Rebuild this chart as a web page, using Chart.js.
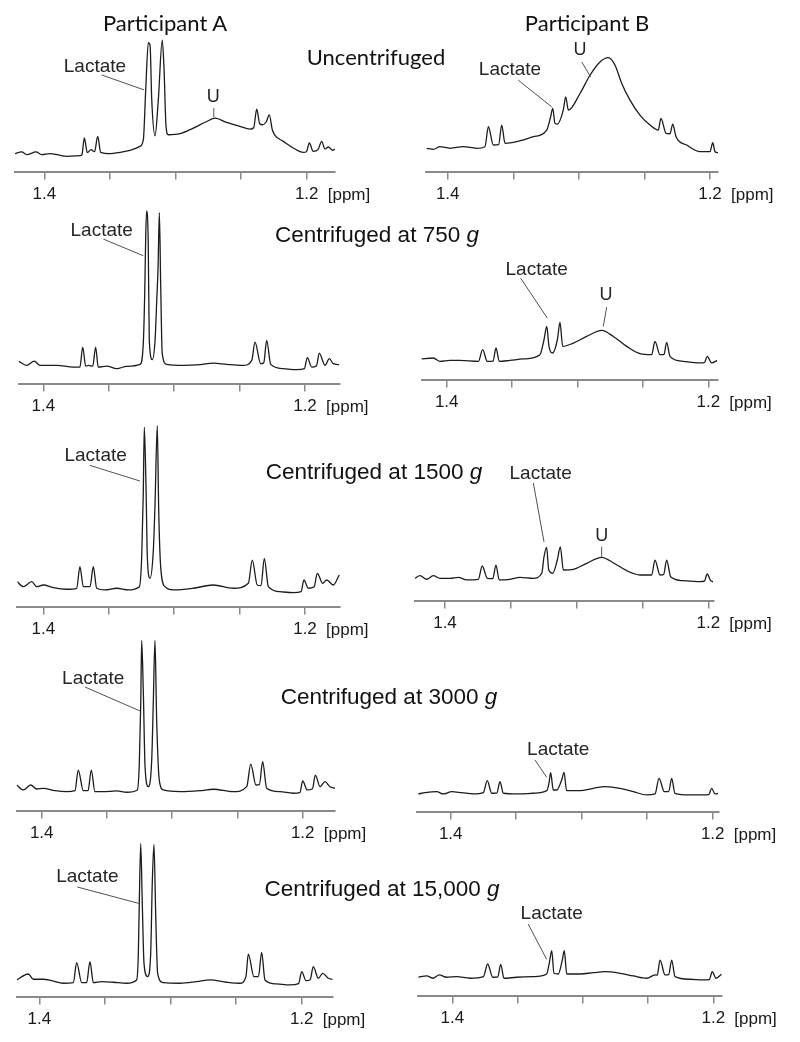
<!DOCTYPE html>
<html>
<head>
<meta charset="utf-8">
<script src="https://cdn.jsdelivr.net/npm/chart.js@4.4.0/dist/chart.umd.min.js"></script>
<style>
  body { margin: 0; background: #fff; }
  #fig { position: relative; width: 800px; height: 1042px; overflow: hidden; }
  #fig canvas { position: absolute; }
  .title { position: absolute; transform: translate(-50%, -50%); white-space: nowrap; color: #111; line-height: 1; z-index: 2; }
  .head { font-family: Lato, "Open Sans", sans-serif; font-size: 22px; }
  .cond { font-family: "Liberation Sans", Arial, sans-serif; font-size: 22.5px; }
</style>
</head>
<body>
<div id="fig">
  <div class="title head" style="left:165px; top:23px">Participant A</div>
  <div class="title head" style="left:587px; top:23px">Participant B</div>
  <div class="title head" style="left:376px; top:57px">Uncentrifuged</div>
  <div class="title cond" style="left:377px; top:235px">Centrifuged at 750 <i>g</i></div>
  <div class="title cond" style="left:374px; top:472px">Centrifuged at 1500 <i>g</i></div>
  <div class="title cond" style="left:389px; top:697px">Centrifuged at 3000 <i>g</i></div>
  <div class="title cond" style="left:382px; top:889px">Centrifuged at 15,000 <i>g</i></div>
</div>
<script>
// x axis ticks (ppm)
const tickValues = [1.4, 1.35, 1.3, 1.25, 1.2];
const tickLabels = ['1.4', '', '', '', '1.2'];

// Participant A, uncentrifuged
const aUncentPpm = [1.4223, 1.4172, 1.4134, 1.4063, 1.4020, 1.3957, 1.3893, 1.3829, 1.3728, 1.3713, 1.3695, 1.3672, 1.3644, 1.3617, 1.3593, 1.3570, 1.3499, 1.3423, 1.3347, 1.3271, 1.3245, 1.3227, 1.3207, 1.3194, 1.3181, 1.3156, 1.3131, 1.3101, 1.3088, 1.3072, 1.3055, 1.2966, 1.2864, 1.2762, 1.2699, 1.2610, 1.2508, 1.2432, 1.2404, 1.2381, 1.2358, 1.2335, 1.2308, 1.2285, 1.2262, 1.2240, 1.2178, 1.2102, 1.2026, 1.2002, 1.1980, 1.1950, 1.1914, 1.1886, 1.1861, 1.1835, 1.1802, 1.1784];
const aUncentInt = [18, 19.7, 17, 19.7, 17, 18, 16.7, 15.3, 16, 17, 33.7, 19, 22, 20, 35.3, 19.3, 18, 19.3, 21.3, 25.3, 32, 82, 129.3, 127, 72, 36, 72, 132, 105, 45.3, 37, 38, 43.7, 50.3, 53.7, 49.3, 45.3, 42.7, 44, 62.7, 48, 47, 50, 57, 42, 36, 30.3, 23.7, 19.3, 20, 28.7, 20.3, 22, 30.3, 22.7, 24.7, 21.3, 22.7];

// Participant B, uncentrifuged
const bUncentPpm = [1.4160, 1.4110, 1.4059, 1.3982, 1.3881, 1.3779, 1.3716, 1.3690, 1.3652, 1.3612, 1.3588, 1.3563, 1.3474, 1.3347, 1.3245, 1.3215, 1.3199, 1.3182, 1.3164, 1.3119, 1.3100, 1.3080, 1.2991, 1.2915, 1.2839, 1.2775, 1.2724, 1.2673, 1.2610, 1.2534, 1.2457, 1.2394, 1.2374, 1.2335, 1.2305, 1.2284, 1.2259, 1.2178, 1.2076, 1.2000, 1.1979, 1.1962, 1.1937];
const bUncentInt = [23.4, 22.4, 25, 23.4, 25, 23.4, 25, 45, 26.7, 27, 46.7, 28.4, 30, 35, 41.7, 55, 63.4, 48.4, 47.7, 61.7, 75, 61.7, 78.4, 96.7, 110, 114.4, 106.7, 88.4, 71.7, 56.7, 46.7, 41.7, 53.4, 38.4, 38, 47.7, 35, 26.7, 20, 20, 29, 20, 19];

// Participant A, 750 g
const a750Ppm = [1.4186, 1.4127, 1.4069, 1.4025, 1.3898, 1.3771, 1.3720, 1.3699, 1.3676, 1.3653, 1.3622, 1.3600, 1.3580, 1.3515, 1.3439, 1.3363, 1.3261, 1.3236, 1.3225, 1.3217, 1.3210, 1.3198, 1.3190, 1.3167, 1.3146, 1.3133, 1.3123, 1.3113, 1.3103, 1.3091, 1.3057, 1.2930, 1.2802, 1.2701, 1.2598, 1.2472, 1.2407, 1.2382, 1.2339, 1.2315, 1.2293, 1.2262, 1.2166, 1.2063, 1.2005, 1.1982, 1.1949, 1.1912, 1.1891, 1.1847, 1.1814, 1.1784, 1.1738];
const a750Int = [22.3, 18.3, 22.6, 18.3, 18.3, 16.6, 16.6, 36.6, 17.5, 18.3, 17.5, 36.6, 16.6, 17.6, 15, 17.3, 19.3, 40, 90, 150, 173.3, 140, 43.3, 24, 43.3, 83.3, 116.6, 171.6, 100, 30, 19.3, 18.3, 19, 20.6, 19.3, 18.3, 23.3, 41.6, 20, 21, 43.3, 19.3, 15, 14, 15, 26, 16.6, 18, 30.6, 18.3, 25, 20, 19];

// Participant B, 750 g
const b750Ppm = [1.4199, 1.4102, 1.4051, 1.3975, 1.3898, 1.3758, 1.3725, 1.3690, 1.3646, 1.3623, 1.3598, 1.3516, 1.3414, 1.3287, 1.3256, 1.3235, 1.3218, 1.3190, 1.3154, 1.3134, 1.3113, 1.3032, 1.2930, 1.2815, 1.2726, 1.2624, 1.2522, 1.2433, 1.2408, 1.2369, 1.2340, 1.2318, 1.2293, 1.2191, 1.2063, 1.2030, 1.2008, 1.1974, 1.1931];
const b750Int = [20.7, 21.7, 18.3, 19.3, 19.3, 18.3, 30, 18.3, 18.5, 31.7, 18.3, 19.3, 20.7, 25, 40, 53.3, 33.3, 26.7, 40, 57.3, 33.3, 36.7, 43.3, 49.3, 43.3, 33.3, 26, 25, 38.3, 25, 25, 37.3, 23.3, 18.3, 16.7, 17, 23.3, 16.7, 19.3];

// Participant A, 1500 g
const a1500Ppm = [1.4199, 1.4153, 1.4089, 1.4050, 1.4000, 1.3924, 1.3821, 1.3745, 1.3720, 1.3694, 1.3643, 1.3618, 1.3592, 1.3528, 1.3439, 1.3350, 1.3266, 1.3248, 1.3236, 1.3228, 1.3215, 1.3205, 1.3185, 1.3159, 1.3146, 1.3129, 1.3118, 1.3103, 1.3070, 1.3006, 1.2854, 1.2701, 1.2548, 1.2433, 1.2403, 1.2365, 1.2336, 1.2311, 1.2280, 1.2191, 1.2089, 1.2030, 1.2008, 1.1975, 1.1930, 1.1906, 1.1865, 1.1834, 1.1784, 1.1738];
const a1500Int = [25, 20, 25, 20, 21.7, 19, 17.4, 18.4, 40, 20, 20, 40, 18.4, 16.7, 18.4, 16.7, 20, 50, 113.4, 180, 120, 50, 28.4, 56.7, 103.4, 181.7, 96.7, 40, 20, 16.7, 18.4, 21.7, 18.4, 23.4, 46.7, 21.7, 21, 48.4, 20, 15, 14, 15, 26.7, 18.4, 20, 33.4, 23.4, 26.7, 21.7, 31.7];

// Participant B, 1500 g
const b1500Ppm = [1.4228, 1.4190, 1.4139, 1.4089, 1.4038, 1.3962, 1.3899, 1.3835, 1.3747, 1.3717, 1.3679, 1.3637, 1.3613, 1.3588, 1.3506, 1.3430, 1.3329, 1.3265, 1.3248, 1.3228, 1.3212, 1.3182, 1.3147, 1.3124, 1.3101, 1.3025, 1.2924, 1.2810, 1.2722, 1.2620, 1.2519, 1.2430, 1.2405, 1.2367, 1.2340, 1.2316, 1.2286, 1.2190, 1.2063, 1.2030, 1.2008, 1.1982, 1.1962];
const b1500Int = [22.4, 25, 21.4, 25, 22.4, 22.4, 23.4, 20.7, 21.4, 34.7, 22.4, 22, 35.7, 20.7, 21.4, 23.4, 22.4, 27.4, 44, 53.4, 30.7, 27.4, 40.7, 54, 30.7, 31.4, 37.4, 43.4, 38, 30, 25.7, 25.7, 40.7, 25.7, 26, 40.7, 24, 20, 19, 19.5, 26.7, 20, 19];

// Participant A, 3000 g
const a3000Ppm = [1.4192, 1.4141, 1.4084, 1.4038, 1.3988, 1.3898, 1.3808, 1.3745, 1.3720, 1.3681, 1.3645, 1.3620, 1.3592, 1.3528, 1.3425, 1.3349, 1.3267, 1.3252, 1.3241, 1.3234, 1.3221, 1.3208, 1.3183, 1.3157, 1.3145, 1.3132, 1.3119, 1.3099, 1.3068, 1.2940, 1.2787, 1.2685, 1.2532, 1.2429, 1.2398, 1.2358, 1.2332, 1.2307, 1.2276, 1.2174, 1.2072, 1.2022, 1.2000, 1.1965, 1.1925, 1.1903, 1.1867, 1.1829, 1.1791, 1.1752];
const a3000Int = [25.7, 20.7, 25.7, 21.7, 22.4, 20, 19, 20, 40.7, 20, 20, 40.7, 19, 19, 19.7, 18.4, 20.7, 47.4, 107.4, 170.7, 117.4, 44, 24, 50.7, 107.4, 170.7, 90.7, 30.7, 20.7, 19, 20, 21.4, 19, 24, 46.7, 25.7, 26, 49, 22.4, 19, 17.4, 18, 29.7, 20.7, 22, 35.7, 24, 29, 24, 22.4];

// Participant B, 3000 g
const b3000Ppm = [1.4247, 1.4196, 1.4107, 1.4056, 1.3992, 1.3916, 1.3827, 1.3751, 1.3721, 1.3687, 1.3648, 1.3624, 1.3598, 1.3496, 1.3369, 1.3267, 1.3250, 1.3237, 1.3217, 1.3191, 1.3153, 1.3135, 1.3115, 1.3013, 1.2911, 1.2822, 1.2708, 1.2606, 1.2504, 1.2440, 1.2410, 1.2369, 1.2336, 1.2313, 1.2288, 1.2173, 1.2072, 1.2030, 1.2008, 1.1982, 1.1957];
const b3000Int = [17.7, 19, 20, 17.7, 20, 19, 17.7, 19, 31, 18.4, 18.5, 30, 18.4, 17.7, 18.4, 21, 28.4, 39, 21.7, 21.7, 31.7, 39.4, 21, 21, 23.4, 25, 23.4, 20, 16.7, 17.7, 33.4, 20, 20, 33.4, 18.4, 16.7, 16.7, 17, 23.4, 17.7, 18.4];

// Participant A, 15,000 g
const a15000Ppm = [1.4172, 1.4084, 1.4046, 1.3970, 1.3905, 1.3817, 1.3741, 1.3715, 1.3677, 1.3639, 1.3614, 1.3588, 1.3524, 1.3436, 1.3334, 1.3258, 1.3245, 1.3238, 1.3227, 1.3215, 1.3202, 1.3174, 1.3151, 1.3139, 1.3126, 1.3113, 1.3098, 1.3055, 1.2928, 1.2800, 1.2699, 1.2572, 1.2470, 1.2425, 1.2407, 1.2364, 1.2330, 1.2305, 1.2280, 1.2191, 1.2089, 1.2024, 1.2000, 1.1967, 1.1935, 1.1912, 1.1873, 1.1840, 1.1797, 1.1764];
const a15000Int = [16.7, 22.7, 17.4, 17.4, 16, 13.4, 14, 34, 14, 14, 35, 14, 15, 14.4, 13.4, 16.7, 43.4, 93.4, 153.4, 93.4, 33.4, 20, 43.4, 113.4, 152.7, 83.4, 23.4, 14, 13.4, 15, 16.7, 14.4, 13.4, 20, 42.7, 20, 20, 44.4, 16.7, 12.7, 11.7, 13, 25, 16, 17, 30, 18.4, 23.4, 18.4, 17.4];

// Participant B, 15,000 g
const b15000Ppm = [1.4261, 1.4196, 1.4146, 1.4100, 1.4043, 1.3966, 1.3864, 1.3762, 1.3729, 1.3690, 1.3652, 1.3629, 1.3604, 1.3507, 1.3379, 1.3277, 1.3257, 1.3238, 1.3221, 1.3188, 1.3157, 1.3142, 1.3123, 1.3021, 1.2920, 1.2830, 1.2715, 1.2613, 1.2510, 1.2447, 1.2430, 1.2408, 1.2370, 1.2342, 1.2319, 1.2293, 1.2179, 1.2077, 1.2031, 1.2008, 1.1979, 1.1936];
const b15000Int = [18.4, 19.7, 17.4, 20.7, 18.4, 19, 17.4, 19, 31.7, 18.4, 18.5, 31.4, 17.4, 18.4, 19, 21.7, 32.4, 45, 22.4, 21.7, 35.7, 45, 21.7, 21.7, 23, 24, 22.4, 19.7, 17.4, 20.7, 20.5, 35.7, 20.7, 21, 35.7, 19, 16.4, 15.7, 16, 24, 17.4, 21.7];

// peak labels: text centre and leader line, in ppm / intensity
const aUncentNotes = [
  { text: 'Lactate', at: [1.3614, 105.3], from: [1.3563, 97], to: [1.3240, 82] },
  { text: 'U', at: [1.2712, 75.3], from: [1.2708, 63.7], to: [1.2708, 54.7] }
];
const bUncentNotes = [
  { text: 'Lactate', at: [1.3525, 101.7], from: [1.3462, 91.7], to: [1.3207, 65] },
  { text: 'U', at: [1.2991, 121.7], from: [1.2978, 110], to: [1.2910, 95] }
];
const a750Notes = [{ text: 'Lactate', at: [1.3554, 153.3], from: [1.3541, 145], to: [1.3236, 128.3] }];
const b750Notes = [
  { text: 'Lactate', at: [1.3312, 110], from: [1.3434, 101.7], to: [1.3231, 61.7] },
  { text: 'U', at: [1.2782, 85], from: [1.2777, 72.7], to: [1.2803, 53.3] }
];
const a1500Notes = [{ text: 'Lactate', at: [1.3600, 151.7], from: [1.3643, 141.7], to: [1.3261, 126] }];
const b1500Notes = [
  { text: 'Lactate', at: [1.3273, 127.4], from: [1.3329, 118], to: [1.3248, 59] },
  { text: 'U', at: [1.2810, 64.7], from: [1.2810, 54], to: [1.2810, 44] }
];
const a3000Notes = [{ text: 'Lactate', at: [1.3605, 132.4], from: [1.3668, 124], to: [1.3247, 100] }];
const b3000Notes = [{ text: 'Lactate', at: [1.3179, 61.7], from: [1.3356, 51.7], to: [1.3267, 34.4] }];
const a15000Notes = [{ text: 'Lactate', at: [1.3634, 120], from: [1.3710, 110], to: [1.3238, 93.4] }];
const b15000Notes = [{ text: 'Lactate', at: [1.3238, 81.7], from: [1.3418, 71.7], to: [1.3277, 36.4] }];

// panel placement: axis ends, axis line y, pixel of 1.4 and 1.2
const panels = [
  { ppm: aUncentPpm, val: aUncentInt, notes: aUncentNotes, left: 15, right: 335, axisY: 172, x14: 44.3, x12: 306.7 },
  { ppm: bUncentPpm, val: bUncentInt, notes: bUncentNotes, left: 426, right: 718, axisY: 171.7, x14: 447.7, x12: 710 },
  { ppm: a750Ppm, val: a750Int, notes: a750Notes, left: 19, right: 339.3, axisY: 383.3, x14: 43.3, x12: 305 },
  { ppm: b750Ppm, val: b750Int, notes: b750Notes, left: 421.7, right: 717.3, axisY: 380, x14: 446.7, x12: 708.3 },
  { ppm: a1500Ppm, val: a1500Int, notes: a1500Notes, left: 17.3, right: 340, axisY: 606.7, x14: 43.3, x12: 305 },
  { ppm: b1500Ppm, val: b1500Int, notes: b1500Notes, left: 415, right: 713.3, axisY: 600.7, x14: 445, x12: 708.3 },
  { ppm: a3000Ppm, val: a3000Int, notes: a3000Notes, left: 16.7, right: 335, axisY: 810.7, x14: 41.7, x12: 302.7 },
  { ppm: b3000Ppm, val: b3000Int, notes: b3000Notes, left: 416.7, right: 718.3, axisY: 811.7, x14: 450.7, x12: 712.7 },
  { ppm: a15000Ppm, val: a15000Int, notes: a15000Notes, left: 16.7, right: 332.7, axisY: 996.7, x14: 39.3, x12: 301.7 },
  { ppm: b15000Ppm, val: b15000Int, notes: b15000Notes, left: 418.3, right: 721.7, axisY: 995.7, x14: 452.3, x12: 713.3 }
];

const fig = document.getElementById('fig');
const AREA_H = 186;
const FONT = '"Liberation Sans", Arial, sans-serif';

// draws peak labels, leader lines and the unit after 1.2
function notesPlugin(notes) {
  return {
    id: 'notes',
    afterDraw(chart) {
      const { ctx, chartArea, scales: { x, y } } = chart;
      ctx.save();
      notes.forEach(n => {
        ctx.strokeStyle = '#505050';
        ctx.lineWidth = 1;
        ctx.beginPath();
        ctx.moveTo(x.getPixelForValue(n.from[0]), y.getPixelForValue(n.from[1]));
        ctx.lineTo(x.getPixelForValue(n.to[0]), y.getPixelForValue(n.to[1]));
        ctx.stroke();
        ctx.fillStyle = '#262626';
        ctx.font = (n.text === 'U' ? '18px ' : '19px ') + FONT;
        ctx.textAlign = 'center';
        ctx.textBaseline = 'middle';
        ctx.fillText(n.text, x.getPixelForValue(n.at[0]), y.getPixelForValue(n.at[1]));
      });
      ctx.font = '17px ' + FONT;
      ctx.fillStyle = '#1a1a1a';
      ctx.textAlign = 'left';
      ctx.textBaseline = 'middle';
      ctx.fillText('[ppm]', x.getPixelForValue(1.2) + 21, chartArea.bottom + 24);
      ctx.restore();
    }
  };
}

panels.forEach(p => {
  const colLeft = p.left < 400 ? 0 : 400;
  const canvas = document.createElement('canvas');
  canvas.width = 400;
  canvas.height = AREA_H + 38;
  canvas.style.left = colLeft + 'px';
  fig.appendChild(canvas);

  const k = (p.x12 - p.x14) / 0.2;
  const ppmMax = 1.4 + (p.x14 - p.left) / k;
  const ppmMin = 1.2 - (p.right - p.x12) / k;

  const chart = new Chart(canvas, {
    type: 'line',
    data: {
      datasets: [{
        data: p.ppm.map((x, i) => ({ x: x, y: p.val[i] })),
        borderColor: '#1c1c1c',
        borderWidth: 1.3,
        pointRadius: 0,
        cubicInterpolationMode: 'monotone',
        fill: false
      }]
    },
    options: {
      responsive: false,
      animation: false,
      events: [],
      layout: { padding: { left: p.left - colLeft, right: colLeft + 400 - p.right, top: 0, bottom: 0 } },
      plugins: { legend: { display: false }, tooltip: { enabled: false } },
      scales: {
        x: {
          type: 'linear',
          reverse: true,
          min: ppmMin,
          max: ppmMax,
          afterBuildTicks: scale => { scale.ticks = tickValues.map(v => ({ value: v })); },
          grid: { display: true, drawOnChartArea: false, drawTicks: true, tickLength: 8, color: '#8a8a8a', lineWidth: 1.5 },
          border: { display: true, color: '#8a8a8a', width: 2 },
          ticks: {
            autoSkip: false,
            maxRotation: 0,
            padding: 5,
            color: '#1a1a1a',
            font: { family: FONT, size: 17 },
            callback: (v, i) => tickLabels[i]
          }
        },
        y: { display: false, min: 0, max: AREA_H }
      }
    },
    plugins: [notesPlugin(p.notes)]
  });

  // make one intensity unit one pixel, then put the axis line where it sits in the figure
  chart.options.scales.y.max = chart.chartArea.bottom - chart.chartArea.top;
  chart.update('none');
  canvas.style.top = (p.axisY - chart.chartArea.bottom) + 'px';
});
</script>
</body>
</html>
